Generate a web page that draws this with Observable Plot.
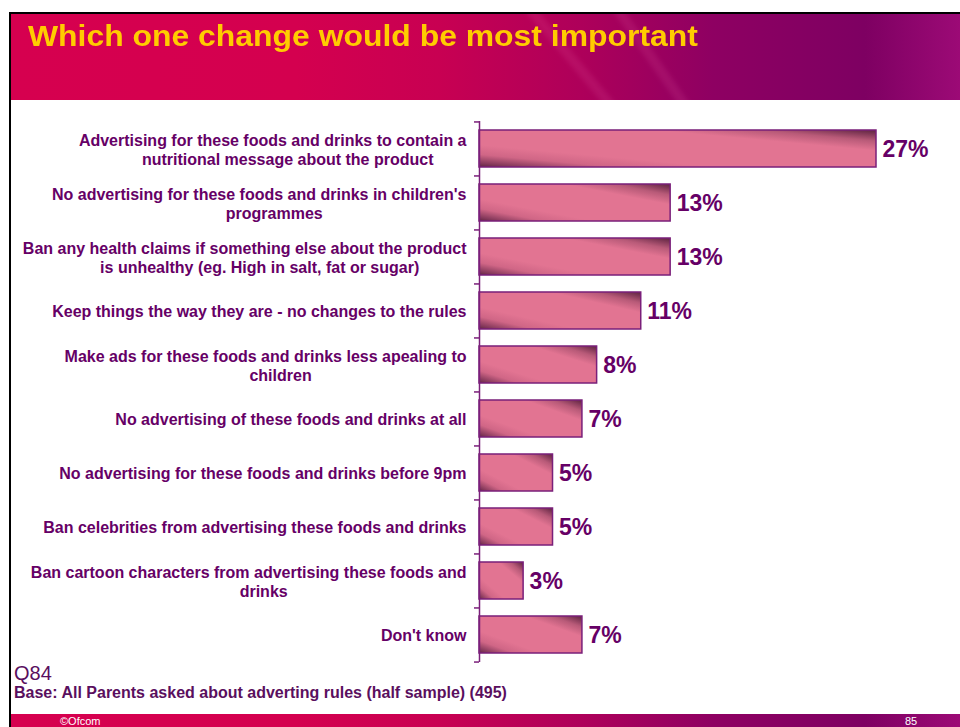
<!DOCTYPE html>
<html>
<head>
<meta charset="utf-8">
<script src="https://cdn.jsdelivr.net/npm/d3@7"></script>
<script src="https://cdn.jsdelivr.net/npm/@observablehq/plot@0.6"></script>
<style>
  body { margin: 0; background: #fff; font-family: "Liberation Sans", Arial, sans-serif; }
  #page { position: relative; width: 960px; height: 727px; overflow: hidden; background: #fff; }
  #frame { position: absolute; left: 9px; top: 12px; width: 960px; height: 720px; border-left: 2px solid #000; border-top: 2px solid #000; }
  #header { position: absolute; left: 11px; top: 14px; width: 949px; height: 86px;
    background: linear-gradient(90deg, #d6004f 0%, #d4004f 30%, #c80052 45%, #ae005a 60%, #8e0062 74%, #7e0062 90%, #9c0a76 100%); overflow: hidden; }
  #header .streak { position: absolute; top: -30px; width: 10px; height: 160px; background: rgba(255,140,200,0.10); filter: blur(2px); }
  #title { position: absolute; left: 28px; top: 22px; color: #ffcc00; font-weight: bold; font-size: 29px; line-height: 1; white-space: nowrap; transform: scaleX(1.1); transform-origin: 0 0; }
  #chart { position: absolute; left: 0; top: 100px; }
  #q { position: absolute; left: 14px; top: 663px; font-size: 20px; line-height: 1; color: #5a0f5e; }
  #base { position: absolute; left: 14px; top: 685px; font-size: 16px; line-height: 1; font-weight: bold; color: #5a0f5e; }
  #footer { position: absolute; left: 11px; top: 714px; width: 949px; height: 13px;
    background: linear-gradient(90deg, #d6004f 0%, #d4004f 30%, #c80052 45%, #ae005a 60%, #8e0062 74%, #7e0062 90%, #9c0a76 100%); }
  #ofcom { position: absolute; left: 60px; top: 716px; font-size: 11px; line-height: 1; color: #fff; }
  #pnum { position: absolute; left: 905px; top: 716px; font-size: 11px; line-height: 1; color: #fff; }
</style>
</head>
<body>
<div id="page">
  <div id="frame"></div>
  <div id="header">
    <div class="streak" style="left:560px;transform:rotate(-40deg)"></div>
    <div class="streak" style="left:640px;transform:rotate(-35deg)"></div>
    <div class="streak" style="left:1095px;width:3px"></div>
    <div class="streak" style="left:1150px;width:3px"></div>
  </div>
  <div id="title">Which one change would be most important</div>
  <div id="chart"></div>
  <div id="q">Q84</div>
  <div id="base">Base: All Parents asked about adverting rules (half sample) (495)</div>
  <div id="footer"></div>
  <div id="ofcom">©Ofcom</div>
  <div id="pnum">85</div>
</div>
<script>
const categories = [
  "Advertising for these foods and drinks to contain a\nnutritional message about the product",
  "No advertising for these foods and drinks in children's\nprogrammes",
  "Ban any health claims if something else about the product\nis unhealthy (eg. High in salt, fat or sugar)",
  "Keep things the way they are - no changes to the rules",
  "Make ads for these foods and drinks less apealing to\nchildren",
  "No advertising of these foods and drinks at all",
  "No advertising for these foods and drinks before 9pm",
  "Ban celebrities from advertising these foods and drinks",
  "Ban cartoon characters from advertising these foods and\ndrinks",
  "Don't know"
];
const values = [27, 13, 13, 11, 8, 7, 5, 5, 3, 7];

const data = categories.map((c, i) => ({label: c, value: values[i]}));

const W = 960, H = 572, MT = 21, MB = 10, ML = 479, MR = 84;
const step = (H - MT - MB) / categories.length;
const purple = "#660066";
const lineCol = "#7a1f7a";

const chart = Plot.plot({
  width: W,
  height: H,
  marginTop: MT,
  marginBottom: MB,
  marginLeft: ML,
  marginRight: MR,
  style: {fontFamily: "'Liberation Sans', Arial, sans-serif", background: "transparent"},
  x: {domain: [0, 27], axis: null},
  y: {domain: categories, axis: null, paddingInner: 0.32, paddingOuter: 0.16},
  marks: [
    Plot.barX(data, {x: "value", y: "label", fill: "url(#barGrad)", stroke: lineCol, strokeWidth: 1.5}),
    Plot.ruleX([0], {stroke: lineCol, strokeWidth: 1.5}),
    Plot.ruleY(categories, {y: d => d, x1: 0, x2: 0, insetLeft: -5, dy: -step / 2, stroke: lineCol, strokeWidth: 1.5}),
    Plot.ruleY(categories.slice(-1), {y: d => d, x1: 0, x2: 0, insetLeft: -5, dy: step / 2, stroke: lineCol, strokeWidth: 1.5}),
    Plot.text(data, {x: 0, y: "label", text: "label", textAnchor: "end", dx: -13, fontSize: 16, fontWeight: "bold", fill: purple, lineHeight: 1.21, className: "catlabel"}),
    Plot.text(data, {x: "value", y: "label", text: d => d.value + "%", textAnchor: "start", dx: 6, dy: 1, fontSize: 23, fontWeight: "bold", fill: purple})
  ]
});

const defs = d3.select(chart).insert("defs", ":first-child");
const g = defs.append("linearGradient").attr("id", "barGrad")
  .attr("x1", 0).attr("y1", 1).attr("x2", 1).attr("y2", 0);
[[0, "#5e2540"], [0.05, "#84385a"], [0.17, "#d06686"], [0.3, "#e27492"], [0.72, "#e27492"], [0.85, "#b85a78"], [0.95, "#7a3452"], [1, "#5e2540"]]
  .forEach(([o, c]) => g.append("stop").attr("offset", o).attr("stop-color", c));

document.getElementById("chart").appendChild(chart);

// center wrapped lines within the right-aligned label block
d3.select(chart).selectAll(".catlabel text").each(function () {
  const tspans = this.querySelectorAll("tspan");
  if (tspans.length > 1) {
    const w1 = tspans[0].getComputedTextLength();
    this.setAttribute("text-anchor", "middle");
    tspans.forEach((t, i) => t.setAttribute("x", -w1 / 2 + (i > 0 ? 15 : 0)));
  }
});
</script>
</body>
</html>
